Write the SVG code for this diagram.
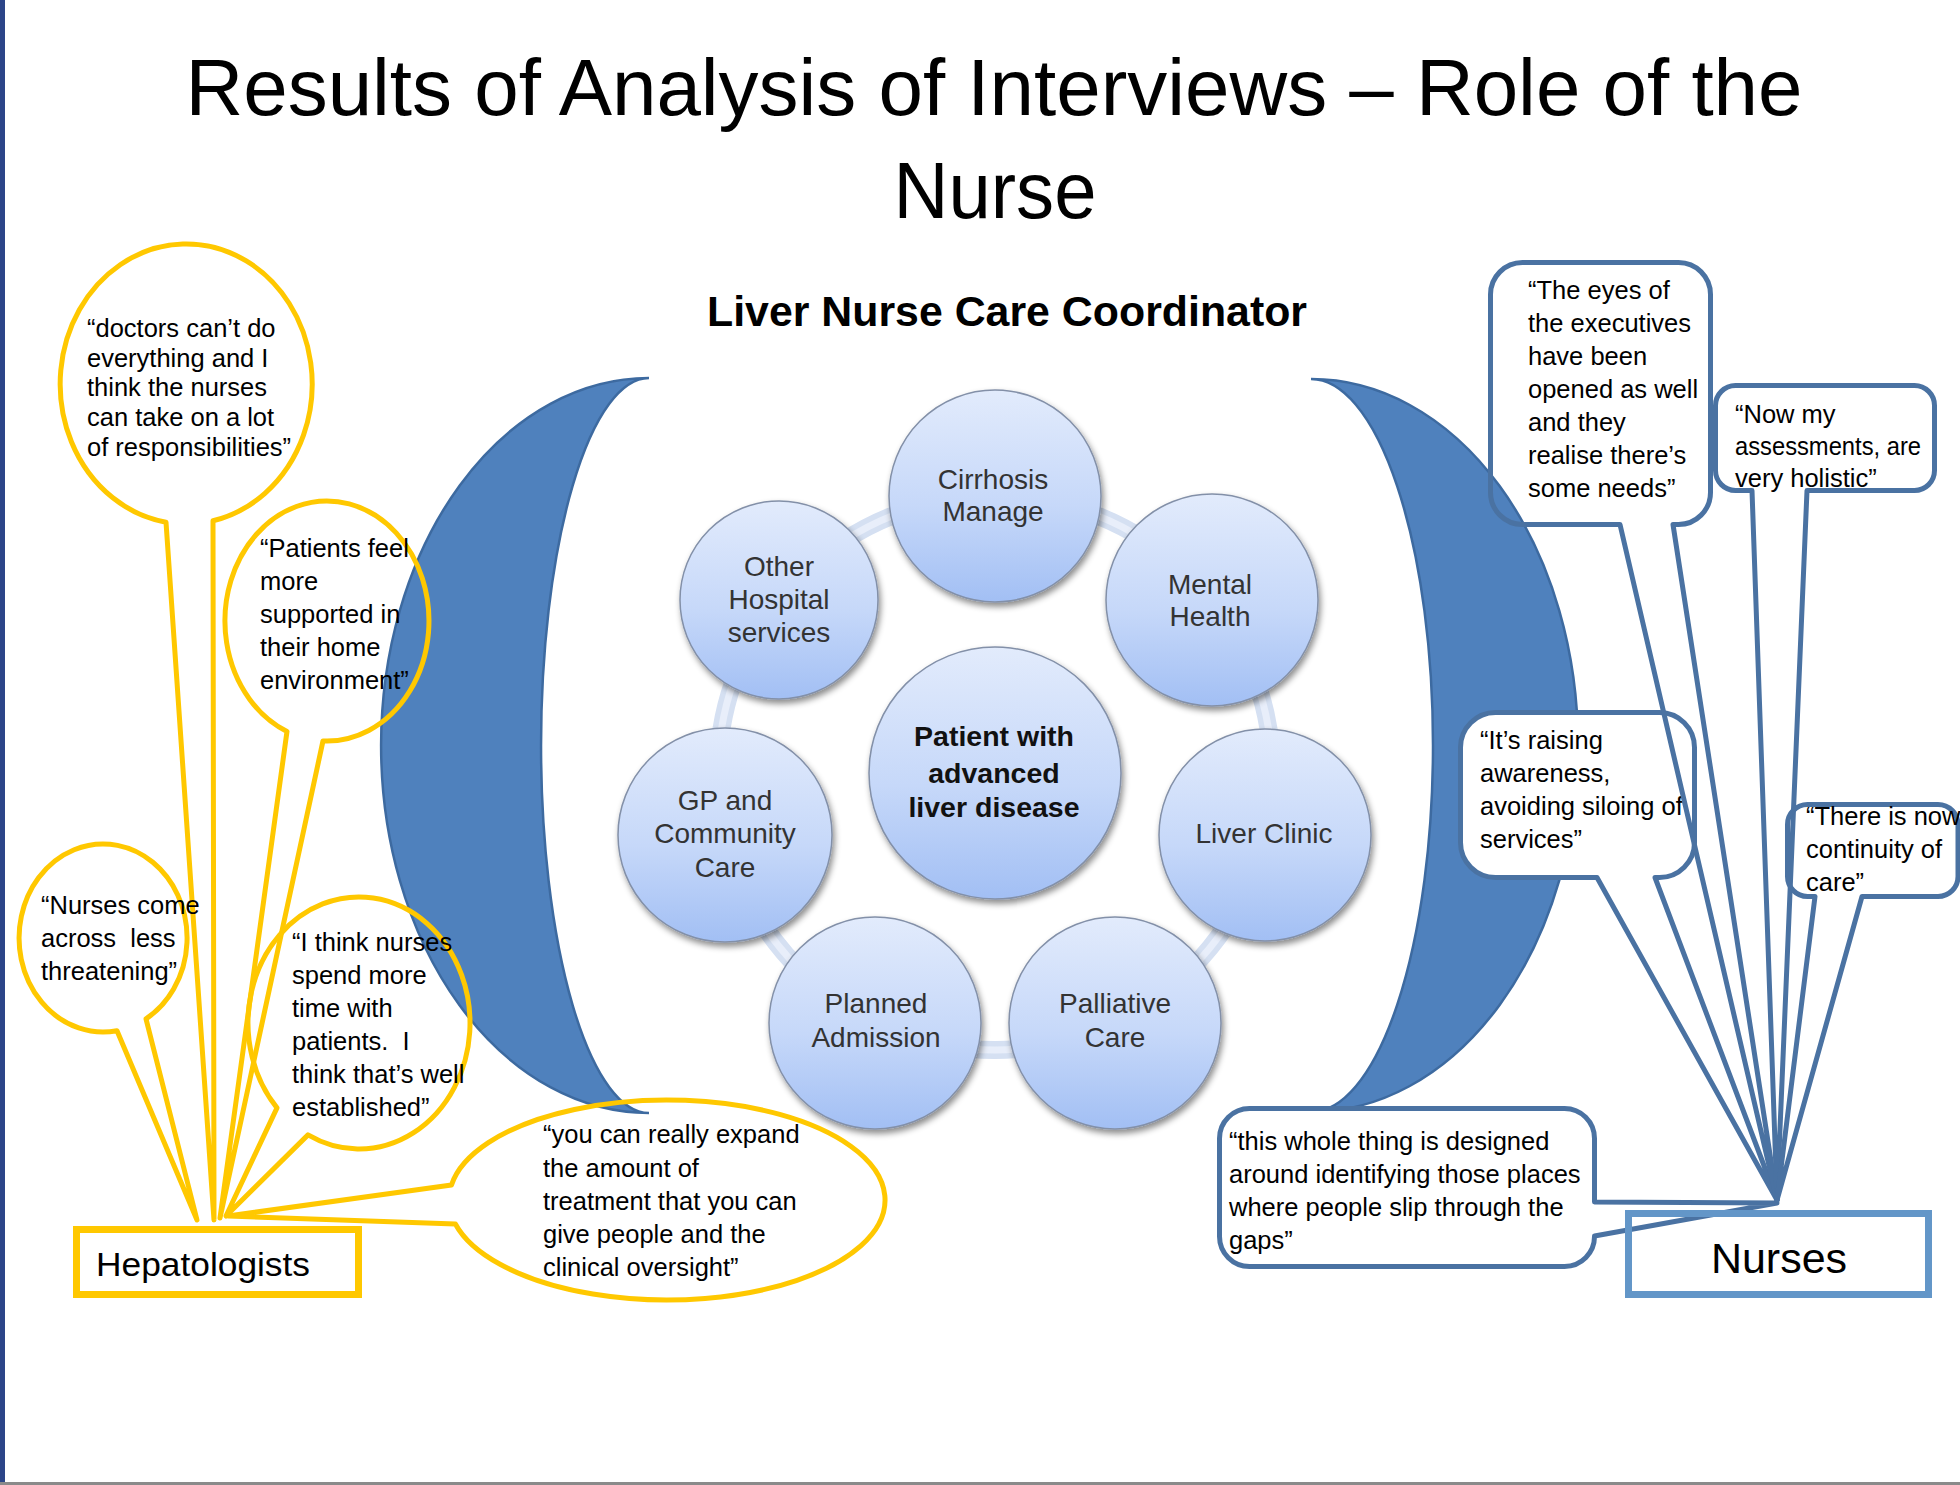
<svg xmlns="http://www.w3.org/2000/svg" width="1960" height="1485" viewBox="0 0 1960 1485">
<defs>
<style>
.ttl{font-family:"Liberation Sans",Arial,sans-serif;fill:#000}
.q{font-family:"Liberation Sans",Arial,sans-serif;font-size:25.5px;fill:#000;white-space:pre}
.yb{fill:none;stroke:#ffc800;stroke-width:5;stroke-linejoin:round}
.bb{stroke:#4a72a2;stroke-width:5;stroke-linejoin:round}
.moon{fill:#4f81bd;stroke:#3d6aa0;stroke-width:2.5}
.node circle{fill:url(#cg);stroke:#8390a8;stroke-width:1.5;filter:url(#sh)}
.nt{font-family:"Liberation Sans",Arial,sans-serif;font-size:28px;fill:#333;text-anchor:middle}
.nb{font-family:"Liberation Sans",Arial,sans-serif;font-size:28.5px;font-weight:bold;fill:#111;text-anchor:middle}
</style>
<linearGradient id="cg" x1="0" y1="0" x2="0" y2="1">
<stop offset="0" stop-color="#e2ebfc"/>
<stop offset="0.55" stop-color="#c6d8f9"/>
<stop offset="1" stop-color="#a2bff4"/>
</linearGradient>
<filter id="sh" x="-20%" y="-20%" width="140%" height="140%">
<feDropShadow dx="2" dy="4" stdDeviation="3" flood-color="#000" flood-opacity="0.45"/>
</filter>
</defs>
<rect x="0" y="0" width="1960" height="1485" fill="#fff"/>
<rect x="0" y="0" width="5" height="1485" fill="#2c4588"/>
<rect x="0" y="1482" width="1960" height="3" fill="#8a8a8a"/>

<g id="title">
<text class="ttl" x="994" y="115" font-size="79" text-anchor="middle" textLength="1617" lengthAdjust="spacingAndGlyphs">Results of Analysis of Interviews – Role of the</text>
<text class="ttl" x="995" y="218" font-size="79" text-anchor="middle" textLength="203" lengthAdjust="spacingAndGlyphs">Nurse</text>
</g>
<g id="subtitle">
<text class="ttl" x="1007" y="326" font-size="43" font-weight="bold" text-anchor="middle" textLength="600" lengthAdjust="spacingAndGlyphs">Liver Nurse Care Coordinator</text>
</g>

<g id="bracket-left"><path class="moon" d="M 649,378 A 268 367.5 0 0 0 649,1113 A 108 367.5 0 0 1 649,378 Z"/></g>
<g id="bracket-right"><path class="moon" d="M 1311,379 A 267 366.5 0 0 1 1311,1112 A 122 366.5 0 0 0 1311,379 Z"/></g>

<g id="connectors">
<circle cx="995" cy="773" r="277" fill="none" stroke="#d5e0f2" stroke-width="18"/>
<circle cx="995" cy="773" r="277" fill="none" stroke="#e8eefa" stroke-width="7"/>
</g>

<g id="node-cirrhosis" class="node"><circle cx="995" cy="496" r="106"/><text class="nt" x="993" y="489">Cirrhosis</text><text class="nt" x="993" y="521">Manage</text></g>
<g id="node-mental" class="node"><circle cx="1212" cy="600" r="106"/><text class="nt" x="1210" y="594">Mental</text><text class="nt" x="1210" y="626">Health</text></g>
<g id="node-liverclinic" class="node"><circle cx="1265" cy="835" r="106"/><text class="nt" x="1264" y="843">Liver Clinic</text></g>
<g id="node-palliative" class="node"><circle cx="1115" cy="1023" r="106"/><text class="nt" x="1115" y="1013">Palliative</text><text class="nt" x="1115" y="1047">Care</text></g>
<g id="node-planned" class="node"><circle cx="875" cy="1023" r="106"/><text class="nt" x="876" y="1013">Planned</text><text class="nt" x="876" y="1047">Admission</text></g>
<g id="node-gp" class="node"><circle cx="725" cy="835" r="107"/><text class="nt" x="725" y="810">GP and</text><text class="nt" x="725" y="843">Community</text><text class="nt" x="725" y="877">Care</text></g>
<g id="node-other" class="node"><circle cx="779" cy="600" r="99"/><text class="nt" x="779" y="576">Other</text><text class="nt" x="779" y="609">Hospital</text><text class="nt" x="779" y="642">services</text></g>
<g id="node-patient" class="node"><circle cx="995" cy="773" r="126"/><text class="nb" x="994" y="746">Patient with</text><text class="nb" x="994" y="783">advanced</text><text class="nb" x="994" y="817">liver disease</text></g>

<g id="quote-doctors">
<path class="yb" d="M 166,522.2 A 126 140 0 1 1 213,520.8 L 214,1220 Z"/>
<text class="q" font-size="23"><tspan x="87" y="337">“doctors can’t do</tspan><tspan x="87" y="367">everything and I</tspan><tspan x="87" y="396">think the nurses</tspan><tspan x="87" y="426">can take on a lot</tspan><tspan x="87" y="456">of responsibilities”</tspan></text>
</g>
<g id="quote-patients">
<path class="yb" d="M 287,731.4 A 102 120 0 1 1 323,740.9 L 220,1218 Z"/>
<text class="q" font-size="26"><tspan x="260" y="557">“Patients feel</tspan><tspan x="260" y="590">more</tspan><tspan x="260" y="623">supported in</tspan><tspan x="260" y="656">their home</tspan><tspan x="260" y="689">environment”</tspan></text>
</g>
<g id="quote-threatening">
<path class="yb" d="M 117,1030.7 A 84 94 0 1 1 146,1018.8 L 197,1220 Z"/>
<text class="q"><tspan x="41" y="914">“Nurses come</tspan><tspan x="41" y="947">across  less</tspan><tspan x="41" y="980">threatening”</tspan></text>
</g>
<g id="quote-time">
<path class="yb" d="M 277,1107.9 A 111 126 0 1 1 308,1134.9 L 226,1216 Z"/>
<text class="q"><tspan x="292" y="951">“I think nurses</tspan><tspan x="292" y="984">spend more</tspan><tspan x="292" y="1017">time with</tspan><tspan x="292" y="1050">patients.  I</tspan><tspan x="292" y="1083">think that’s well</tspan><tspan x="292" y="1116">established”</tspan></text>
</g>
<g id="quote-expand">
<path class="yb" d="M 451.5,1185 A 218 100 0 1 1 455.4,1224 L 228,1216 Z"/>
<text class="q"><tspan x="543" y="1143">“you can really expand</tspan><tspan x="543" y="1177">the amount of</tspan><tspan x="543" y="1210">treatment that you can</tspan><tspan x="543" y="1243">give people and the</tspan><tspan x="543" y="1276">clinical oversight”</tspan></text>
</g>
<g id="hepatologists">
<rect x="76.5" y="1229.5" width="282" height="65" fill="none" stroke="#ffc800" stroke-width="7"/>
<text class="ttl" x="96" y="1276" font-size="33" textLength="214" lengthAdjust="spacingAndGlyphs">Hepatologists</text>
</g>

<g id="quote-awareness">
<path class="bb" fill="#fff" d="M 1495.5,712.5 H 1659.5 A 35 35 0 0 1 1694.5,747.5 V 842.5 A 35 35 0 0 1 1659.5,877.5 H 1655 L 1777,1200 L 1597,877.5 H 1495.5 A 35 35 0 0 1 1460.5,842.5 V 747.5 A 35 35 0 0 1 1495.5,712.5 Z"/>
<text class="q"><tspan x="1480" y="749">“It’s raising</tspan><tspan x="1480" y="782">awareness,</tspan><tspan x="1480" y="815">avoiding siloing of</tspan><tspan x="1480" y="848">services”</tspan></text>
</g>
<g id="quote-gaps">
<path class="bb" fill="#fff" d="M 1249.5,1108.5 H 1564.5 A 30 30 0 0 1 1594.5,1138.5 V 1202 L 1777,1203 L 1594.5,1236 A 30 30 0 0 1 1564.5,1266.5 H 1249.5 A 30 30 0 0 1 1219.5,1236.5 V 1138.5 A 30 30 0 0 1 1249.5,1108.5 Z"/>
<text class="q"><tspan x="1229" y="1150">“this whole thing is designed</tspan><tspan x="1229" y="1183">around identifying those places</tspan><tspan x="1229" y="1216">where people slip through the</tspan><tspan x="1229" y="1249">gaps”</tspan></text>
</g>
<g id="quote-executives">
<path class="bb" fill="none" d="M 1522.5,262.5 H 1678.5 A 32 32 0 0 1 1710.5,294.5 V 492.5 A 32 32 0 0 1 1678.5,524.5 H 1673 L 1777,1200 L 1620,524.5 H 1522.5 A 32 32 0 0 1 1490.5,492.5 V 294.5 A 32 32 0 0 1 1522.5,262.5 Z"/>
<text class="q" font-size="24.5"><tspan x="1528" y="299">“The eyes of</tspan><tspan x="1528" y="332">the executives</tspan><tspan x="1528" y="365">have been</tspan><tspan x="1528" y="398">opened as well</tspan><tspan x="1528" y="431">and they</tspan><tspan x="1528" y="464">realise there’s</tspan><tspan x="1528" y="497">some needs”</tspan></text>
</g>
<g id="quote-holistic">
<path class="bb" fill="none" d="M 1735.5,385.5 H 1914.5 A 20 20 0 0 1 1934.5,405.5 V 470.5 A 20 20 0 0 1 1914.5,490.5 H 1807 L 1777,1200 L 1752,490.5 H 1735.5 A 20 20 0 0 1 1715.5,470.5 V 405.5 A 20 20 0 0 1 1735.5,385.5 Z"/>
<text class="q" font-size="23.5"><tspan x="1735" y="423">“Now my</tspan><tspan x="1735" y="455" textLength="186" lengthAdjust="spacingAndGlyphs">assessments, are</tspan><tspan x="1735" y="487">very holistic”</tspan></text>
</g>
<g id="quote-continuity">
<path class="bb" fill="none" d="M 1807.5,804.5 H 1938 A 20 20 0 0 1 1958,824.5 V 876.5 A 20 20 0 0 1 1938,896.5 H 1862 L 1777,1200 L 1815,896.5 H 1807.5 A 20 20 0 0 1 1787.5,876.5 V 824.5 A 20 20 0 0 1 1807.5,804.5 Z"/>
<text class="q"><tspan x="1806" y="825">“There is now</tspan><tspan x="1806" y="858">continuity of</tspan><tspan x="1806" y="891">care”</tspan></text>
</g>
<g id="nurses">
<rect x="1628.5" y="1213.5" width="300" height="81" fill="none" stroke="#6396c8" stroke-width="7"/>
<text class="ttl" x="1779" y="1273" font-size="43" text-anchor="middle">Nurses</text>
</g>
</svg>
